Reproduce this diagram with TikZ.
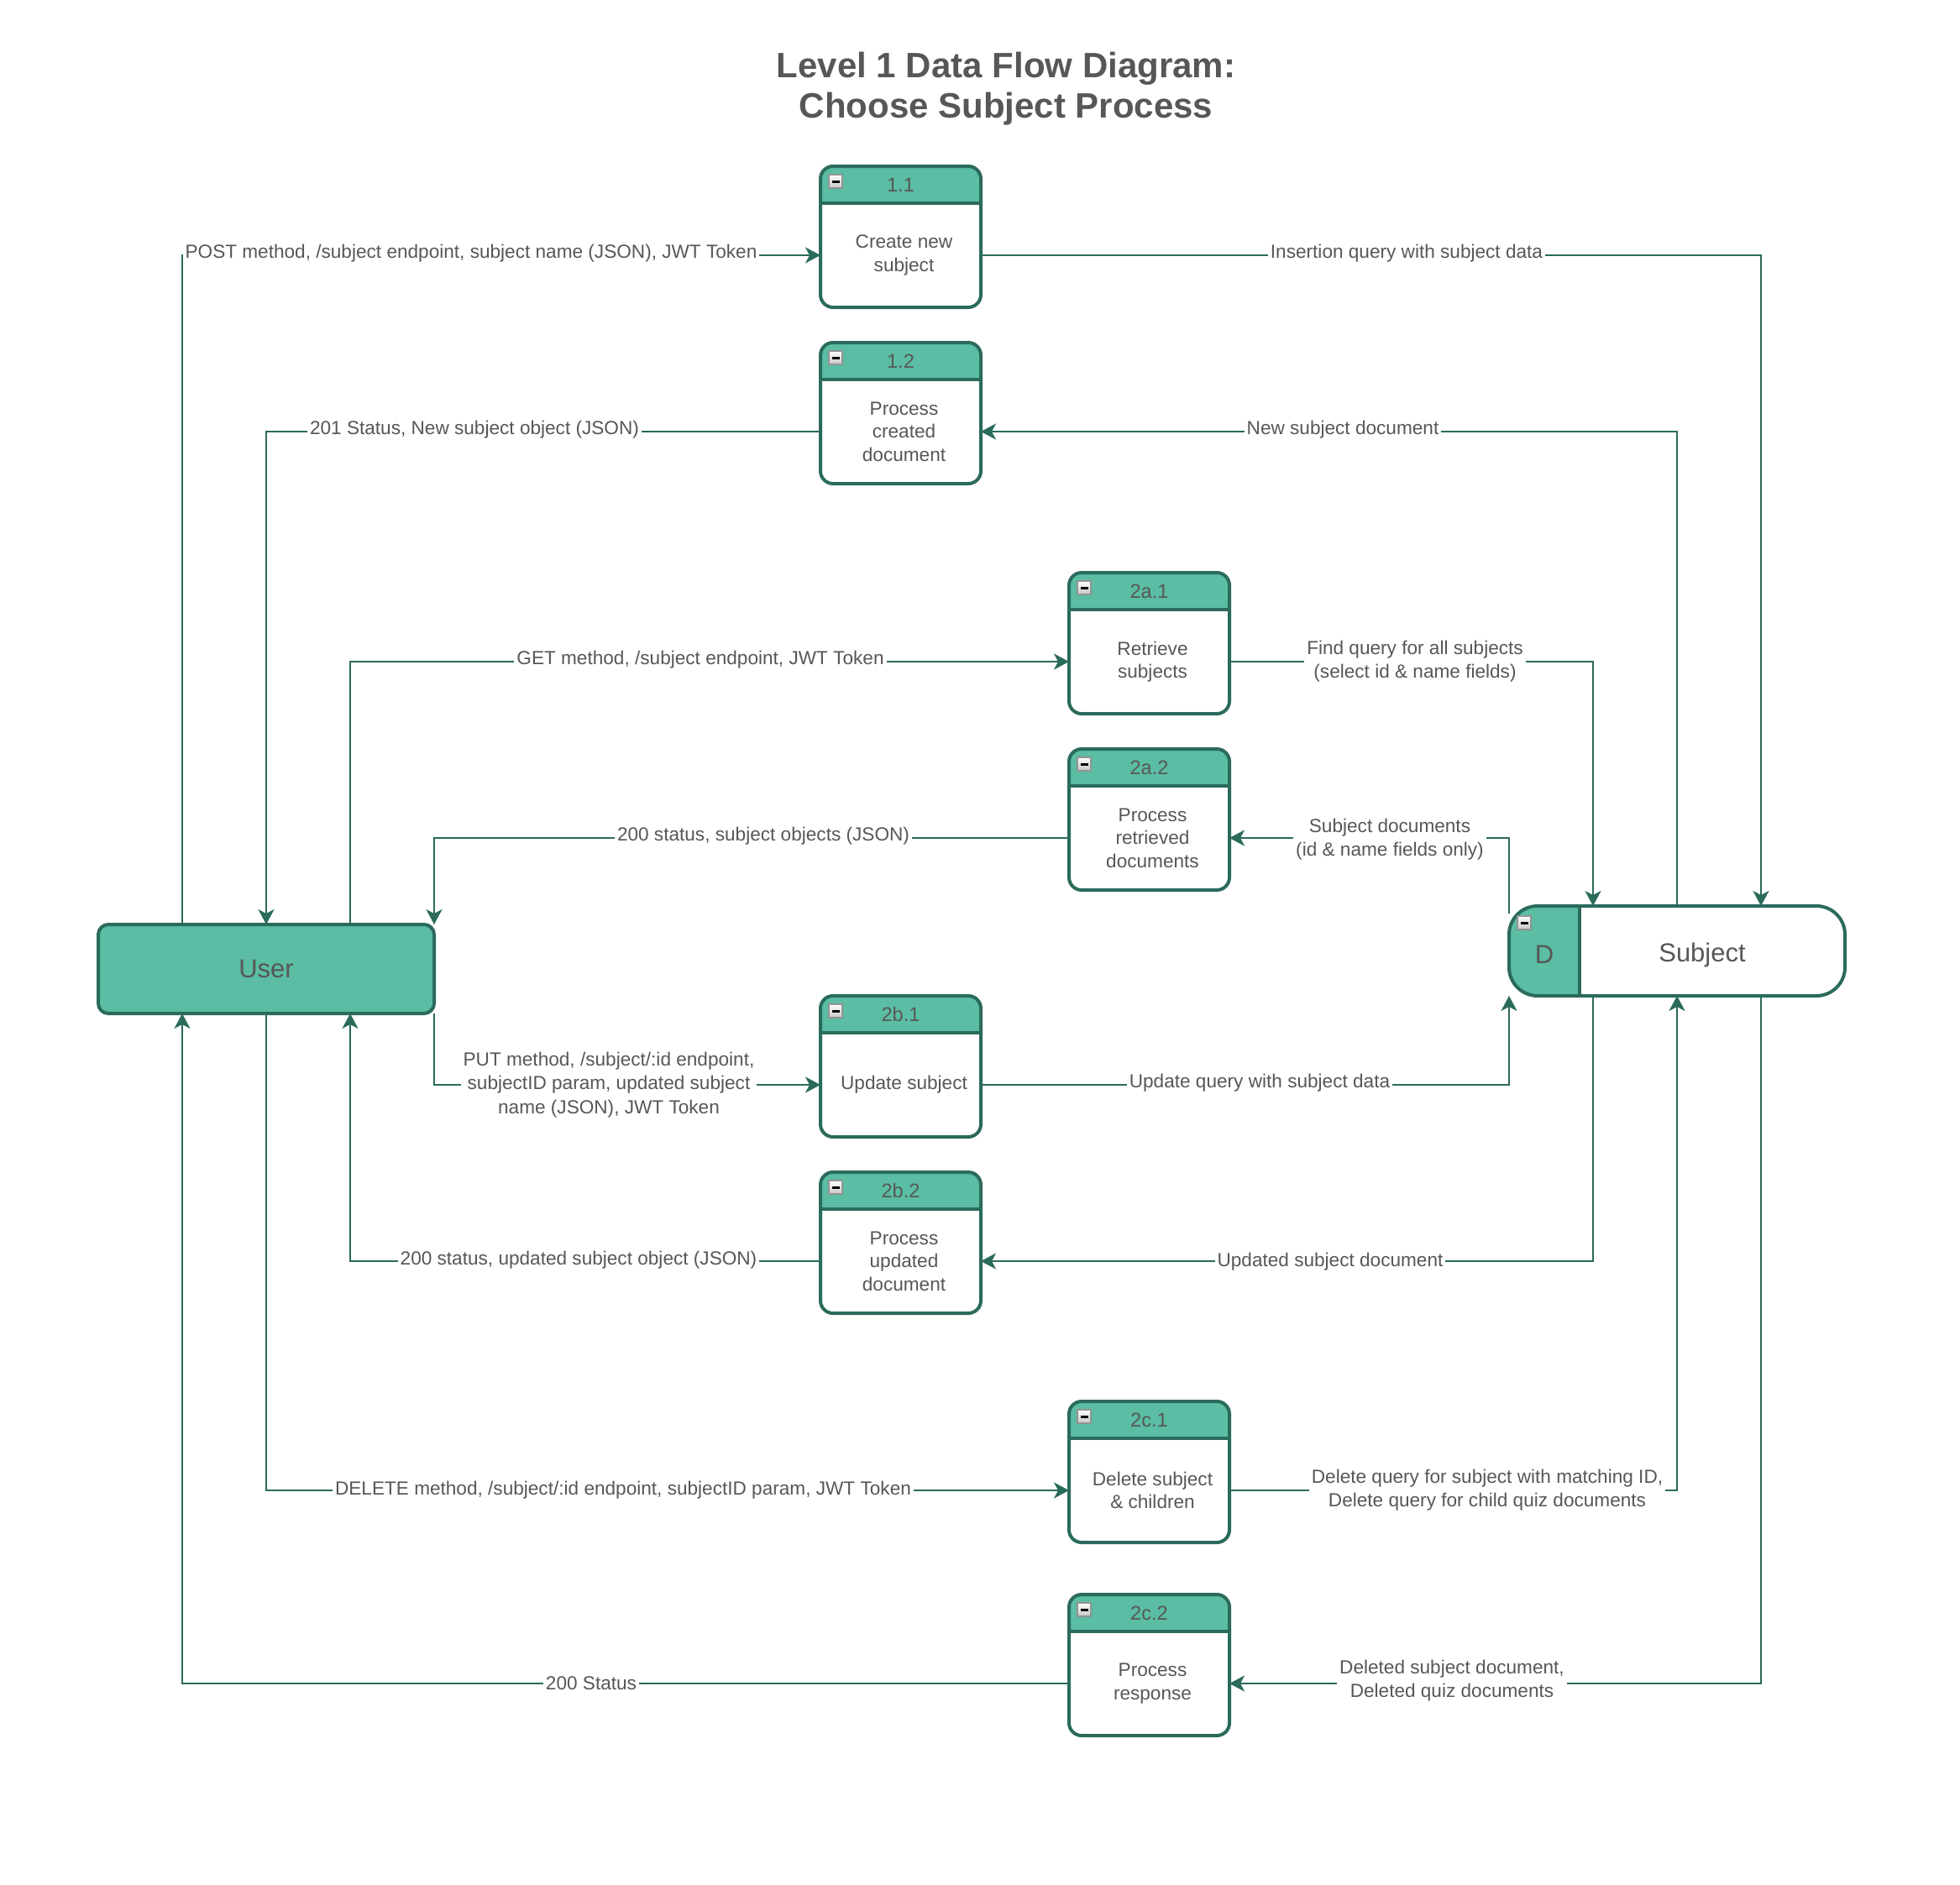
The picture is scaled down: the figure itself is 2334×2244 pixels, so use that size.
\documentclass[tikz,border=0pt]{standalone}
\usepackage{fontspec}
\setmainfont{Liberation Sans}
\usetikzlibrary{arrows.meta}

\definecolor{flowline}{HTML}{2B6B5C}
\definecolor{boxfill}{HTML}{5ABDA4}
\definecolor{inktext}{HTML}{575757}

\tikzset{
  flow/.style={draw=flowline, line width=1pt,
    -{Stealth[length=9pt, width=9.5pt, inset=2.5pt]}},
  flowlabel/.style={fill=white, text=inktext, align=center,
    font=\fontsize{11.3}{14.1}\selectfont, inner xsep=1.5pt, inner ysep=1pt},
  boxline/.style={draw=flowline, line width=2pt},
  procbody/.style={minimum width=95.5pt, minimum height=62pt, inner sep=0pt,
    outer sep=0pt, text=inktext, align=center,
    font=\fontsize{11.3}{13.8}\selectfont},
  prochead/.style={minimum width=95.5pt, minimum height=22pt, inner sep=0pt,
    outer sep=0pt, text=inktext, font=\fontsize{11.8}{14}\selectfont},
  userbox/.style={fill=boxfill, boxline, rounded corners=6pt,
    minimum width=200pt, minimum height=53pt, inner sep=0pt, outer sep=0pt,
    text=inktext, font=\fontsize{15.5}{18}\selectfont},
  storetext/.style={text=inktext, inner sep=0pt, font=\fontsize{15.5}{18}\selectfont},
}

% small collapse button in the top-left corner of a box
\newcommand\minusicon[2]{%
  \draw[draw=gray!85, line width=0.6pt, top color=white, bottom color=gray!45]
    (#1,#2) rectangle ++(16,16);
  \draw[black, line width=1.5pt] (#1+3.5,#2+8) -- (#1+12.5,#2+8);
}

% process box: name, centre x, top y, number, text
\newcommand\procbox[5]{%
  \begin{scope}
    \clip[rounded corners=7.5pt] (#2-95.5,#3) rectangle (#2+95.5,#3+168);
    \fill[white] (#2-95.5,#3) rectangle (#2+95.5,#3+168);
    \fill[boxfill] (#2-95.5,#3) rectangle (#2+95.5,#3+44);
  \end{scope}
  \draw[boxline] (#2-95.5,#3+44) -- (#2+95.5,#3+44);
  \draw[boxline, rounded corners=7.5pt] (#2-95.5,#3) rectangle (#2+95.5,#3+168);
  \minusicon{#2-85.5}{#3+10}
  \node[prochead] (#1h) at (#2,#3+22) {#4};
  \node[procbody] (#1) at (#2,#3+106) {};
  \node[procbody, minimum width=0pt, minimum height=0pt] (#1text) at (#2+4,#3+106) {#5};
}

\begin{document}
\begin{tikzpicture}[x=0.5pt, y=-0.5pt]
  \fill[white] (0,0) rectangle (2334,2244);
  \useasboundingbox (0,0) rectangle (2334,2244);

  % title
  \node[text=inktext, align=center, font=\bfseries\fontsize{21}{24}\selectfont]
    (title) at (1198,106) {Level 1 Data Flow Diagram:\\Choose Subject Process};

  % processes
  \procbox{p11}{1072.5}{198}{1.1}{Create new\\subject}
  \procbox{p12}{1072.5}{408}{1.2}{Process\\created\\document}
  \procbox{p2a1}{1368.5}{682}{2a.1}{Retrieve\\subjects}
  \procbox{p2a2}{1368.5}{892}{2a.2}{Process\\retrieved\\documents}
  \procbox{p2b1}{1072.5}{1186}{2b.1}{Update subject}
  \procbox{p2b2}{1072.5}{1396}{2b.2}{Process\\updated\\document}
  \procbox{p2c1}{1368.5}{1669}{2c.1}{Delete subject\\\& children}
  \procbox{p2c2}{1368.5}{1899}{2c.2}{Process\\response}

  % external entity
  \node[userbox] (user) at (317,1154) {User};

  % data store
  \node[minimum width=200pt, minimum height=53.5pt, inner sep=0pt, outer sep=0pt]
    (store) at (1997,1132.5) {};
  \begin{scope}
    \clip[rounded corners=17pt] (store.north west) rectangle (store.south east);
    \fill[white] (store.north west) rectangle (store.south east);
    \fill[boxfill] (store.north west) rectangle ([xshift=42pt]store.south west);
  \end{scope}
  \draw[boxline] ([xshift=42pt]store.north west) -- ([xshift=42pt]store.south west);
  \draw[boxline, rounded corners=17pt] (store.north west) rectangle (store.south east);
  \minusicon{1807}{1091}
  \node[storetext] (storeid) at (1839,1137) {D};
  \node[storetext] (storename) at (2027,1137) {Subject};

  % data flows
  \draw[flow] ([xshift=-50pt]user.north) |- (p11.west)
    node[flowlabel] at (561,302) {POST method, /subject endpoint, subject name (JSON), JWT Token};
  \draw[flow] (p11.east) -| ([xshift=50pt]store.north)
    node[flowlabel] at (1675,302) {Insertion query with subject data};
  \draw[flow] (store.north) |- (p12.east)
    node[flowlabel] at (1599,512) {New subject document};
  \draw[flow] (p12.west) -| (user.north)
    node[flowlabel] at (565,512) {201 Status, New subject object (JSON)};

  \draw[flow] ([xshift=50pt]user.north) |- (p2a1.west)
    node[flowlabel] at (834,786) {GET method, /subject endpoint, JWT Token};
  \draw[flow] (p2a1.east) -| ([xshift=-50pt]store.north)
    node[flowlabel] at (1685,788) {Find query for all subjects\\(select id \& name fields)};
  \draw[flow] ([yshift=-4.5pt]store.north west) |- (p2a2.east)
    node[flowlabel] at (1655,1000) {Subject documents\\(id \& name fields only)};
  \draw[flow] (p2a2.west) -| (user.north east)
    node[flowlabel] at (909,996) {200 status, subject objects (JSON)};

  \draw[flow] (user.south east) |- (p2b1.west)
    node[flowlabel] at (725,1292) {PUT method, /subject/:id endpoint,\\subjectID param, updated subject\\name (JSON), JWT Token};
  \draw[flow] (p2b1.east) -| (store.south west)
    node[flowlabel] at (1500,1290) {Update query with subject data};
  \draw[flow] ([xshift=-50pt]store.south) |- (p2b2.east)
    node[flowlabel] at (1584,1503) {Updated subject document};
  \draw[flow] (p2b2.west) -| ([xshift=50pt]user.south)
    node[flowlabel] at (689,1501) {200 status, updated subject object (JSON)};

  \draw[flow] (user.south) |- (p2c1.west)
    node[flowlabel] at (742,1775) {DELETE method, /subject/:id endpoint, subjectID param, JWT Token};
  \draw[flow] (p2c1.east) -| (store.south)
    node[flowlabel] at (1771,1775) {Delete query for subject with matching ID,\\Delete query for child quiz documents};
  \draw[flow] ([xshift=50pt]store.south) |- (p2c2.east)
    node[flowlabel] at (1729,2002) {Deleted subject document,\\Deleted quiz documents};
  \draw[flow] (p2c2.west) -| ([xshift=-50pt]user.south)
    node[flowlabel] at (704,2005) {200 Status};
\end{tikzpicture}
\end{document}
